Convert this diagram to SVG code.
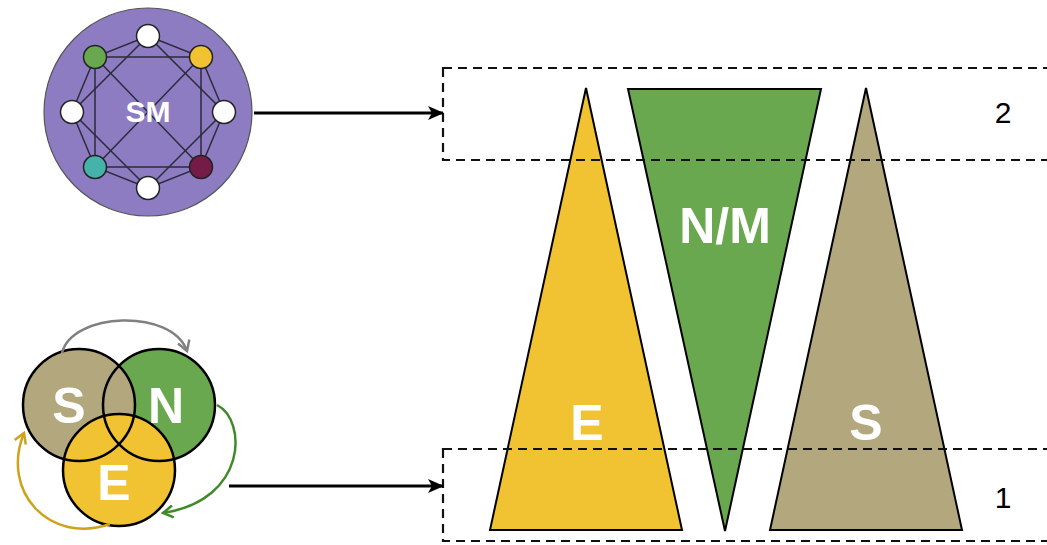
<svg xmlns="http://www.w3.org/2000/svg" width="1047" height="545" viewBox="0 0 1047 545">
<defs>
<style>
.lbl{font-family:"Liberation Sans",Arial,sans-serif;font-weight:bold;fill:#fff;text-anchor:middle}
.num{font-family:"Liberation Sans",Arial,sans-serif;fill:#000;text-anchor:middle;font-size:30px}
.edge{stroke:#2b2b3a;stroke-width:1.5;fill:none}
.node{stroke:#222;stroke-width:1.5}
.tri{stroke:#000;stroke-width:2;stroke-linejoin:miter}
.dash{fill:none;stroke:#111;stroke-width:2.2;stroke-dasharray:9 6}
.vc{fill:none;stroke:#000;stroke-width:2.5}
</style>
<marker id="ah" markerWidth="16" markerHeight="14" refX="15" refY="7" orient="auto" markerUnits="userSpaceOnUse">
<path d="M0,0 L16,7 L0,14 L4,7 Z" fill="#000"/>
</marker>
<marker id="ag" markerWidth="14" markerHeight="14" refX="11" refY="7" orient="auto" markerUnits="userSpaceOnUse">
<path d="M1,1 L11,7 L1,13" fill="none" stroke="#808080" stroke-width="2.5"/>
</marker>
<marker id="agr" markerWidth="14" markerHeight="14" refX="11" refY="7" orient="auto" markerUnits="userSpaceOnUse">
<path d="M1,1 L11,7 L1,13" fill="none" stroke="#3f8a26" stroke-width="2.5"/>
</marker>
<marker id="ay" markerWidth="14" markerHeight="14" refX="11" refY="7" orient="auto" markerUnits="userSpaceOnUse">
<path d="M1,1 L11,7 L1,13" fill="none" stroke="#cfa21a" stroke-width="2.5"/>
</marker>
</defs>

<g id="sm">
<circle cx="148" cy="112" r="104" fill="#8e7cc3" stroke="#555" stroke-width="1.2"/>
<g class="edge">
<polygon points="148,36 201,57 224,112 201,167 148,188 95,167 72,112 95,57"/>
<polygon points="95,57 201,57 201,167 95,167"/>
<polygon points="148,36 224,112 148,188 72,112"/>
<line x1="95" y1="57" x2="201" y2="167"/>
<line x1="201" y1="57" x2="95" y2="167"/>
</g>
<circle class="node" cx="148" cy="36" r="11.5" fill="#fff"/>
<circle class="node" cx="201" cy="57" r="11.5" fill="#f1c232"/>
<circle class="node" cx="224" cy="112" r="11.5" fill="#fff"/>
<circle class="node" cx="201" cy="167" r="11.5" fill="#741b47"/>
<circle class="node" cx="148" cy="188" r="11.5" fill="#fff"/>
<circle class="node" cx="95" cy="167" r="11.5" fill="#45b3aa"/>
<circle class="node" cx="72" cy="112" r="11.5" fill="#fff"/>
<circle class="node" cx="95" cy="57" r="11.5" fill="#6aa84f"/>
<text class="lbl" x="148" y="122" font-size="30">SM</text>
</g>

<g id="venn">
<circle cx="159" cy="405" r="56" fill="#6aa84f"/>
<circle cx="79" cy="405" r="56" fill="#b3a77e"/>
<circle cx="119" cy="470" r="56" fill="#f1c232"/>
<circle class="vc" cx="159" cy="405" r="56"/>
<circle class="vc" cx="79" cy="405" r="56"/>
<circle class="vc" cx="119" cy="470" r="56"/>
<text class="lbl" x="69" y="423" font-size="50">S</text>
<text class="lbl" x="166" y="423" font-size="50">N</text>
<text class="lbl" x="114" y="500" font-size="50">E</text>
</g>

<g id="tri-e">
<polygon class="tri" points="586,88 682,530 490,530" fill="#f1c232"/>
<text class="lbl" x="587" y="440" font-size="50">E</text>
</g>
<g id="tri-nm">
<polygon class="tri" points="628,89 821,89 725,531" fill="#6aa84f"/>
<text class="lbl" x="725" y="243" font-size="50">N/M</text>
</g>
<g id="tri-s">
<polygon class="tri" points="866,88 962,530 770,530" fill="#b3a77e"/>
<text class="lbl" x="866" y="440" font-size="50">S</text>
</g>

<g id="level2">
<rect class="dash" x="443" y="68" width="640" height="92"/>
<text class="num" x="1003" y="123">2</text>
</g>
<g id="level1">
<rect class="dash" x="443" y="449" width="640" height="92"/>
<text class="num" x="1003" y="508">1</text>
</g>

<g id="connectors">
<line x1="254" y1="113" x2="443" y2="113" stroke="#000" stroke-width="3" marker-end="url(#ah)"/>
<line x1="229" y1="486" x2="443" y2="486" stroke="#000" stroke-width="3" marker-end="url(#ah)"/>
<path d="M62,353 C72,312 172,308 187,351" fill="none" stroke="#808080" stroke-width="2.5" marker-end="url(#ag)"/>
<path d="M217,405 C247,420 248,500 163,513" fill="none" stroke="#3f8a26" stroke-width="2.5" marker-end="url(#agr)"/>
<path d="M110,524 C50,545 0,492 24,433" fill="none" stroke="#cfa21a" stroke-width="2.5" marker-end="url(#ay)"/>
</g>
</svg>
